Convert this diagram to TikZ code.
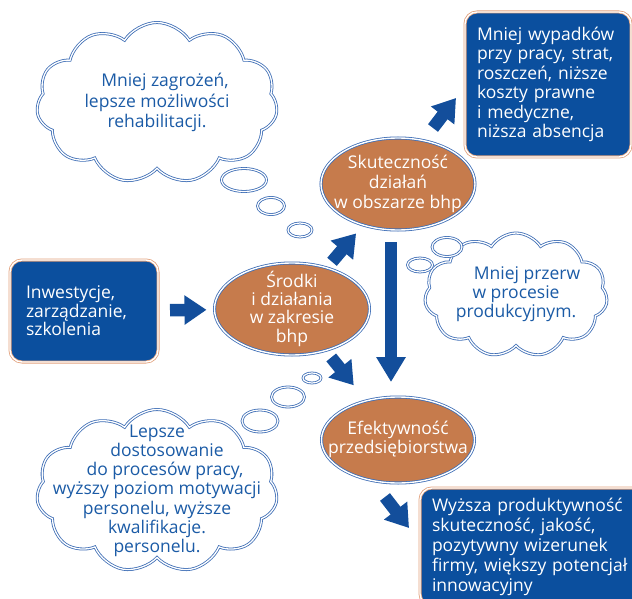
\documentclass[tikz,border=0pt]{standalone}
\usepackage{fontspec}
\setmainfont{Open Sans}
\usetikzlibrary{shapes.geometric,shapes.symbols,arrows.meta}
\definecolor{boxblue}{HTML}{0B4F9E}
\definecolor{brownfill}{HTML}{C67B4C}
\definecolor{eblue}{HTML}{3D6DB5}
\definecolor{ctext}{HTML}{1B5BA6}
\definecolor{borange}{HTML}{E2A27E}
\definecolor{arrblue}{HTML}{134E9B}
\newcommand\zbox[1]{\makebox[0pt]{\smash{\raisebox{-0.25em}{\begin{tabular}{@{}c@{}}#1\end{tabular}}}}}
\begin{document}
\begin{tikzpicture}[x=1pt,y=-1pt,
  lead/.style={font=\fontsize{17.5}{#1}\selectfont},
  bluebox/.style={rectangle, rounded corners=12pt, fill=boxblue, draw=borange,
    double=white, double distance=1.4pt, line width=0.8pt, text=white, align=left, outer sep=0pt},
  brownell/.style={ellipse, fill=brownfill, draw=eblue, double=white,
    double distance=1.4pt, line width=0.8pt, text=white, inner sep=0pt, outer sep=0pt},
  thought/.style={cloud, cloud puffs=11, cloud puff arc=115, cloud ignores aspect,
    draw=eblue, double=white, double distance=1.3pt, line width=0.8pt,
    fill=white, text=ctext, inner sep=0pt},
  bubble/.style={ellipse, draw=eblue, double=white, double distance=1.2pt,
    line width=0.8pt, fill=white, inner sep=0pt},
  blockarr/.style={draw=arrblue, line width=12.5pt, -{Triangle[width=28pt,length=22pt]}},
]
\clip (0,0) rectangle (632,599);

% thought clouds
\node[thought, lead=20.5, minimum width=241, minimum height=161] (c1) at (157,103)
  {\zbox{\hspace{16pt}Mniej zagrożeń,\\lepsze możliwości\\rehabilitacji.}};
\node[thought, lead=19, minimum width=183, minimum height=124] (c2) at (516,295)
  {\zbox{\hspace{22pt}Mniej przerw\\w procesie\hspace{6pt}\\produkcyjnym.\hspace{20pt}}};
\node[thought, lead=19.2, minimum width=241, minimum height=163] (c3) at (157,491)
  {\zbox{Lepsze\hspace{18pt}\\\hspace{20pt}dostosowanie\\\hspace{16pt}do procesów pracy,\\wyższy poziom motywacji\hspace{6pt}\\personelu, wyższe\hspace{44pt}\\kwalifikacje.\hspace{30pt}\\personelu.\hspace{24pt}}};

% bubbles
\node[bubble, minimum width=45, minimum height=23] (b11) at (244,180) {};
\node[bubble, minimum width=27, minimum height=17] (b12) at (271,206) {};
\node[bubble, minimum width=24, minimum height=14] (b13) at (300,230) {};
\node[bubble, minimum width=30, minimum height=19] (b21) at (447,247) {};
\node[bubble, minimum width=25, minimum height=14] (b22) at (420,265) {};
\node[bubble, minimum width=18, minimum height=10] (b31) at (312,378) {};
\node[bubble, minimum width=33, minimum height=20] (b32) at (288,397) {};
\node[bubble, minimum width=36, minimum height=22] (b33) at (260,421) {};

% blue boxes
\node[bluebox, lead=18.5, minimum width=148, minimum height=102, text width=116, inner xsep=16pt] (inv) at (84,311)
  {Inwestycje,\\zarządzanie,\\szkolenia};
\node[bluebox, lead=19.5, minimum width=166, minimum height=145, text width=142, inner xsep=12pt] (tr) at (548,84.5)
  {Mniej wypadków\\przy pracy, strat,\\roszczeń, niższe\\koszty prawne\\i medyczne,\\niższa absencja};
\node[bluebox, lead=20, anchor=north west, text width=215, inner xsep=12pt, inner ysep=10pt] (br) at (420,488)
  {Wyższa produktywność\\skuteczność, jakość,\\pozytywny wizerunek\\firmy, większy potencjał\\innowacyjny};

% brown ellipses
\node[brownell, lead=20, minimum width=154, minimum height=92] (sk) at (398,184)
  {\zbox{Skuteczność\\działań\\w obszarze bhp}};
\node[brownell, lead=17, minimum width=155, minimum height=92] (sr) at (292,309)
  {\zbox{Środki\\i działania\\w zakresie\\bhp}};
\node[brownell, lead=19, minimum width=153, minimum height=86] (ef) at (398,440)
  {\zbox{Efektywność\\przedsiębiorstwa}};

% block arrows
\coordinate (a3s) at (433,128);
\coordinate (a3e) at (456,98);
\coordinate (a5s) at (385,497);
\coordinate (a5e) at (409,528);
\draw[blockarr, shorten <=12pt, shorten >=8pt] (inv) -- (sr);
\draw[blockarr, shorten <=8pt, shorten >=11pt] (sr) -- (sk);
\draw[blockarr, shorten <=9pt, shorten >=20pt] (sr) -- (ef);
\draw[blockarr] (a3s) -- (a3e);
\draw[blockarr] (a5s) -- (a5e);
\draw[draw=arrblue, line width=12pt, -{Triangle[width=28pt,length=25pt]}, shorten <=12pt, shorten >=15pt]
  ([xshift=-7pt]sk.south) -- ([xshift=-7pt]ef.north);
\end{tikzpicture}
\end{document}
